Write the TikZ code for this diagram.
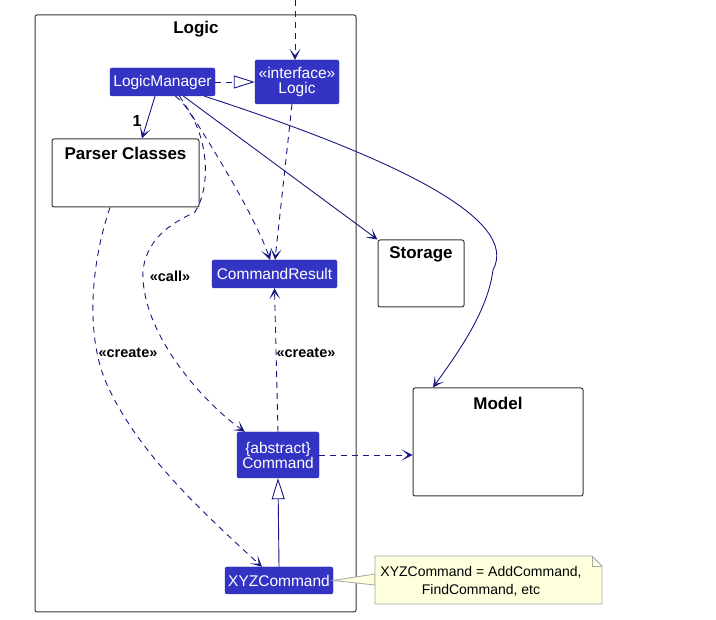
\documentclass[tikz,border=0pt]{standalone}
\usepackage{fontspec}
\setmainfont{Liberation Sans}
\usetikzlibrary{arrows.meta,calc}
\definecolor{clsblue}{RGB}{51,51,196}
\definecolor{arr}{RGB}{24,24,128}
\definecolor{notefill}{RGB}{254,255,221}
\definecolor{frameline}{RGB}{56,56,56}
\tikzset{
  cls/.style={fill=clsblue,draw=clsblue!85!black,rounded corners=2pt,text=white,
    font=\fontsize{15.5}{17}\selectfont,align=center,inner sep=0pt},
  pkg/.style={draw=frameline,fill=white,line width=1pt,rounded corners=2pt,inner sep=0pt},
  pkgtitle/.style={font=\fontsize{17}{19}\selectfont\bfseries,inner sep=0pt},
  lbl/.style={font=\fontsize{14.5}{16}\selectfont\bfseries,inner sep=0pt},
  solidarr/.style={draw=arr,line width=0.9pt,-{Stealth[length=11pt,width=11pt,inset=6.5pt]}},
  dasharr/.style={draw=arr,line width=0.9pt,dash pattern=on 6pt off 5pt,-{Stealth[length=11pt,width=11pt,inset=6.5pt]}},
  realize/.style={draw=arr,line width=0.9pt,dash pattern=on 6pt off 5pt,-{Triangle[open,length=21pt,width=13pt,fill=white]}},
  inherit/.style={draw=arr,line width=0.9pt,-{Triangle[open,length=21pt,width=13pt,fill=white]}},
}
\begin{document}
\begin{tikzpicture}[x=1pt,y=-1pt]
\useasboundingbox (0,0) rectangle (716,620);
% Logic package frame
\node[pkg,minimum width=321pt,minimum height=597pt] (logicpkg) at (195.5,313.5) {};
\node[pkgtitle] (logictitle) at (196,29) {Logic};
% other packages
\node[pkg,minimum width=147pt,minimum height=68pt] (pc) at (125.5,173) {};
\node[pkgtitle] (pctitle) at (125.5,153) {Parser Classes};
\node[pkg,minimum width=86pt,minimum height=67pt] (sto) at (421,273.5) {};
\node[pkgtitle] (stotitle) at (421,254) {Storage};
\node[pkg,minimum width=170pt,minimum height=108pt] (mdl) at (498,442) {};
\node[pkgtitle] (mdltitle) at (498,403) {Model};
% classes
\node[cls,minimum width=105pt,minimum height=28pt] (lm) at (162.5,82) {LogicManager};
\node[cls,minimum width=84pt,minimum height=44pt] (lgc) at (297,82) {«interface»\\[-2pt]Logic};
\node[cls,minimum width=125pt,minimum height=28pt] (cr) at (274.5,274) {CommandResult};
\node[cls,minimum width=82pt,minimum height=46pt] (cmd) at (278,455) {\{abstract\}\\[-2pt]Command};
\node[cls,minimum width=108pt,minimum height=27pt] (xyz) at (279,580.5) {XYZCommand};
% external incoming
\coordinate (topin) at (295,0);
\draw[dasharr] (topin) -- ([xshift=-2pt]lgc.north);
% connectors
\draw[solidarr] ([xshift=-7.5pt]lm.south) -- ([xshift=16.5pt]pc.north);
\node[font=\fontsize{16}{18}\selectfont\bfseries,inner sep=0pt] (one) at (137,121) {1};
\draw[realize] (lm.east) -- (lgc.west);
\draw[dasharr] ([xshift=-5pt]lgc.south) -- ([xshift=0.5pt]cr.north);
\draw[dasharr] ([xshift=17pt]lm.south) .. controls (205,135) and (255,215) .. ([xshift=-4.5pt]cr.north);
\draw[dasharr] ([xshift=13pt]lm.south) .. controls (205,120) and (215,180) .. (195,212)
   .. controls (175,222) and (148,235) .. (143,270)
   .. controls (140,330) and (200,400) .. ([xshift=8pt]cmd.north west);
\node[lbl] (calllbl) at (170,276) {«call»};
\draw[solidarr] ([xshift=21pt]lm.south) -- (sto.north west);
\draw[solidarr] ([xshift=42pt]lm.south) .. controls (400,160) and (520,220) .. (493,270)
   .. controls (488,310) and (460,350) .. ([xshift=-65pt]mdl.north);
\draw[dasharr] ([xshift=-15.5pt]pc.south) .. controls (92,260) and (85,330) .. (105,380)
   .. controls (135,450) and (200,510) .. ([xshift=-17pt]xyz.north);
\node[lbl] (createl) at (128,353) {«create»};
\draw[dasharr] (cmd.north) -- (cr.south);
\node[lbl] (creater) at (306,353) {«create»};
\draw[dasharr] (cmd.east) -- (mdl.west |- cmd.east);
\draw[inherit] (xyz.north) -- (cmd.south);
% note
\coordinate (nA) at (375,556);
\draw[draw=gray!70,fill=notefill,line width=0.8pt] (xyz.east) -- (375,574) -- (375,585) -- cycle;
\draw[draw=gray!70,fill=notefill,line width=0.8pt] (nA) -- (592,556) -- (602,566) -- (602,604) -- (375,604) -- cycle;
\draw[draw=gray!70,line width=0.8pt] (592,556) -- (592,566) -- (602,566);
\node[font=\fontsize{14}{18}\selectfont,align=center,inner sep=0pt] (notetext) at (481,581) {XYZCommand = AddCommand,\\FindCommand, etc};
\end{tikzpicture}
\end{document}
